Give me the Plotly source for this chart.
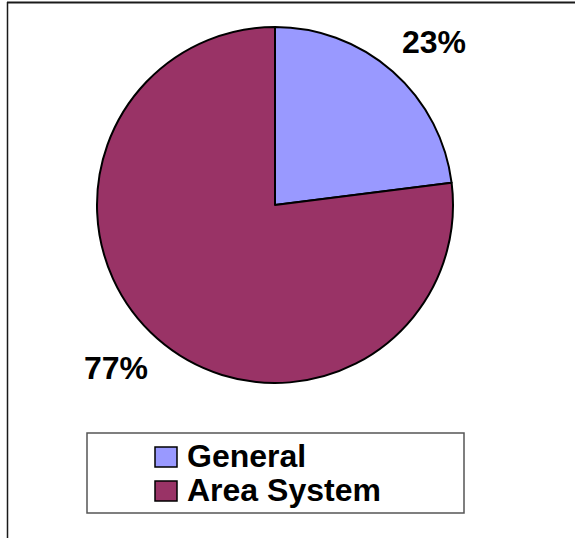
import math
import plotly.graph_objects as go

# ---- data ----
labels = ["General", "Area System"]
values = [23, 77]
colors = ["#9999FF", "#993366"]

# ---- layout constants (pixels) ----
W, H = 575, 538
CX, CY, R = 275, 205, 178
LABEL_R = 1.28 * R
LABEL_ANGLE_OFFSET = 2.8  # degrees
FONT = "Liberation Sans, Arial, sans-serif"


def px(x):
    return x / W


def py(y):
    return 1 - y / H


fig = go.Figure()
fig.add_trace(go.Pie(
    labels=labels,
    values=values,
    marker=dict(colors=colors, line=dict(color="black", width=2)),
    sort=False,
    direction="clockwise",
    rotation=0,
    textinfo="none",
    hoverinfo="label+percent",
    showlegend=False,
    domain=dict(x=[px(CX - R), px(CX + R)], y=[py(CY + R), py(CY - R)]),
))

annotations = []
shapes = []

# percentage labels placed outside each slice at its mid-angle
total = sum(values)
start = 0.0
for v in values:
    frac = v / total
    mid = (start + frac / 2) * 360 + LABEL_ANGLE_OFFSET
    start += frac
    lx = CX + LABEL_R * math.sin(math.radians(mid))
    ly = CY - LABEL_R * math.cos(math.radians(mid))
    annotations.append(dict(
        x=px(lx), y=py(ly), xref="paper", yref="paper",
        text=f"{frac * 100:.0f}%", showarrow=False,
        xanchor="center", yanchor="middle",
        font=dict(family=FONT, size=32, color="black", weight="bold"),
    ))

# frame lines
shapes.append(dict(type="line", xref="paper", yref="paper",
                   x0=px(7), x1=px(W), y0=py(2.5), y1=py(2.5),
                   line=dict(color="#1a1a1a", width=2)))
shapes.append(dict(type="line", xref="paper", yref="paper",
                   x0=px(7.5), x1=px(7.5), y0=py(2), y1=py(H),
                   line=dict(color="#1a1a1a", width=1.5)))

# legend box
shapes.append(dict(type="rect", xref="paper", yref="paper",
                   x0=px(87), x1=px(464), y0=py(513), y1=py(433),
                   line=dict(color="#555555", width=1.5), fillcolor="white",
                   layer="below"))

LEG_X_SWATCH = 155
LEG_SW_W, LEG_SW_H = 22, 20
LEG_Y0 = 457
LEG_DY = 34
for i, (lab, col) in enumerate(zip(labels, colors)):
    yc = LEG_Y0 + i * LEG_DY
    shapes.append(dict(type="rect", xref="paper", yref="paper",
                       x0=px(LEG_X_SWATCH), x1=px(LEG_X_SWATCH + LEG_SW_W),
                       y0=py(yc + LEG_SW_H / 2), y1=py(yc - LEG_SW_H / 2),
                       line=dict(color="black", width=1.5), fillcolor=col))
    annotations.append(dict(
        x=px(185), y=py(yc - 1), xref="paper", yref="paper",
        text=lab, showarrow=False, xanchor="left", yanchor="middle",
        font=dict(family=FONT, size=32, color="black", weight="bold"),
    ))

fig.update_layout(
    width=W, height=H,
    margin=dict(l=0, r=0, t=0, b=0),
    paper_bgcolor="white",
    plot_bgcolor="white",
    annotations=annotations,
    shapes=shapes,
    showlegend=False,
)

fig.write_html(
    "out.html",
    config={"displayModeBar": False},
    post_script="document.body.style.margin='0';document.body.style.overflow='hidden';",
)
